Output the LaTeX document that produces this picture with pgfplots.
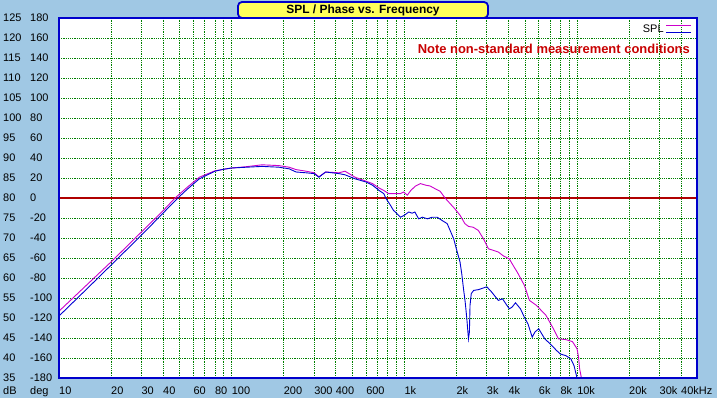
\documentclass[border=0pt]{standalone}
\usepackage{pgfplots}
\pgfplotsset{compat=1.18}
\usepackage{fontspec}
\setmainfont{Liberation Sans}
\definecolor{bgblue}{RGB}{160,200,228}
\definecolor{gridgreen}{RGB}{0,128,0}
\definecolor{framblue}{RGB}{0,0,204}
\definecolor{curveblue}{RGB}{0,0,210}
\definecolor{curvemag}{RGB}{204,0,204}
\definecolor{zerored}{RGB}{176,0,0}
\definecolor{noteRed}{RGB}{200,0,0}
\definecolor{titleyellow}{RGB}{255,255,90}
\begin{document}
\begin{tikzpicture}
\fill[bgblue] (-59bp,-20bp) rectangle (658bp,378bp);
\begin{axis}[
  at={(0,0)}, anchor=south west,
  scale only axis, width=638bp, height=360bp,
  xmode=log, xmin=10, xmax=49500, ymin=35, ymax=125,
  axis background/.style={fill=white},
  axis line style={draw=none},
  major tick length=0pt,
  grid=major,
  major grid style={gridgreen, line width=0.9bp, dash pattern=on 1.2bp off 1bp},
  xtick={10,20,30,40,50,60,70,80,90,100,200,300,400,500,600,700,800,900,1000,2000,3000,4000,5000,6000,7000,8000,9000,10000,20000,30000,40000},
  xticklabels={10,20,30,40,,60,,80,,100,200,300,400,,600,,,,1k,2k,3k,4k,,6k,,8k,,10k,20k,30k,40kHz},
  xticklabel style={anchor=base west, inner sep=0pt, yshift=-16bp, font=\fontsize{11}{13}\selectfont},
  ytick={35,40,...,125},
  yticklabels={
    \makebox[27bp][l]{35}-180, \makebox[27bp][l]{40}-160, \makebox[27bp][l]{45}-140,
    \makebox[27bp][l]{50}-120, \makebox[27bp][l]{55}-100, \makebox[27bp][l]{60}-80,
    \makebox[27bp][l]{65}-60, \makebox[27bp][l]{70}-40, \makebox[27bp][l]{75}-20,
    \makebox[27bp][l]{80}0, \makebox[27bp][l]{85}20, \makebox[27bp][l]{90}40,
    \makebox[27bp][l]{95}60, \makebox[27bp][l]{100}80, \makebox[27bp][l]{105}100,
    \makebox[27bp][l]{110}120, \makebox[27bp][l]{115}140, \makebox[27bp][l]{120}160,
    \makebox[27bp][l]{125}180},
  yticklabel style={anchor=base west, inner sep=0pt, xshift=-56bp, yshift=-3.5bp, font=\fontsize{11}{13}\selectfont},
  legend plot pos=right,
  legend style={draw=none, fill=none, at={(axis description cs:0.992,0.988)}, anchor=north east,
    inner sep=0pt, font=\fontsize{11}{13}\selectfont},
]
\addlegendimage{legend image code/.code={
  \draw[curvemag, line width=1.1bp] (0bp,3.4bp) -- (25bp,3.4bp);
  \draw[curveblue, line width=1.1bp] (0bp,-3.2bp) -- (25bp,-3.2bp);}}
\addlegendentry{SPL}
\addplot[zerored, line width=1.1bp, forget plot] coordinates {(10,80) (49500,80)};
% magenta SPL
\addplot[curvemag, line width=0.9bp, forget plot] coordinates {
(10,51.7) (15,58.9) (20,64.0) (30,71.5) (40,76.8) (47,80) (55,82.6) (65,85.2) (80,86.8)
(100,87.5) (120,87.8) (150,88.3) (188,88.1) (215,87.7) (236,87.1) (270,86.7) (300,86.3)
(320,85.3) (350,86.5) (418,86.3) (453,86.7) (518,85.2) (600,84.2) (654,83.6) (713,82.5)
(760,81.9) (810,81.1) (950,81.1) (990,81.5) (1040,80.7) (1090,81.9) (1160,83) (1240,83.6)
(1330,83.2) (1410,83) (1510,82.3) (1610,81.7) (1720,80) (1840,78.6) (1960,77.3) (2100,75.7)
(2240,73.6) (2350,72.9) (2500,72.7) (2680,71.9) (2870,69.8) (3070,67.3) (3280,66.9)
(3500,66.5) (3750,65.5) (4050,64.8) (4270,63.1) (4500,61.5) (4950,58.2) (5300,54.4)
(5800,53.2) (6600,50.7) (7300,47.3) (7800,44.8) (8600,44.6) (9400,44.1) (10000,42.3)
(10200,40.2) (10350,37.3) (10600,35)};
% blue SPL
\addplot[curveblue, line width=0.9bp, forget plot] coordinates {
(10,50.5) (15,57.9) (20,63.2) (30,70.7) (40,76.2) (48.8,80) (55,82.1) (65,84.8) (80,86.7)
(90,87.2) (100,87.5) (122,87.7) (150,87.9) (188,87.7) (215,87.3) (236,86.5) (270,86.3)
(300,86.1) (320,85.2) (350,86.5) (418,86.1) (453,85.8) (518,84.8) (600,84) (654,83.2)
(713,81.9) (760,81.1) (780,80) (830,78.2) (865,76.9) (905,76.1) (950,75.2) (1000,75.7)
(1060,76.5) (1110,76.2) (1150,76.5) (1210,74.8) (1270,75.2) (1360,74.8) (1450,75.2)
(1550,75.2) (1650,74.4) (1770,73.6) (1840,71.9) (1930,69.8) (2000,67.3) (2100,64)
(2150,61) (2200,57.3) (2250,54) (2300,49.8) (2350,44.8) (2380,46.5) (2400,53.2)
(2440,56.1) (2520,56.9) (2690,57.1) (3000,57.8) (3200,56.5) (3500,54.4) (3700,54.8)
(4050,52.3) (4200,52.7) (4400,53.8) (4700,52.3) (4950,50.2) (5200,48.5) (5500,45.2)
(5700,46.5) (6000,47.3) (6500,44.8) (7000,43.5) (7600,41.9) (8000,41) (8600,40.6)
(9200,39.8) (9600,38.1) (10000,35)};
\end{axis}
\draw[framblue, line width=2.5bp] (0,0) rectangle (638bp,360bp);
\node[anchor=base west, inner sep=0pt, font=\fontsize{11}{13}\selectfont] at (-56bp,-16bp) {dB};
\node[anchor=base west, inner sep=0pt, font=\fontsize{11}{13}\selectfont] at (-29bp,-16bp) {deg};
\node[anchor=base east, inner sep=0pt, text=noteRed, font=\fontsize{13}{15}\bfseries\selectfont] at (631bp,324.7bp) {Note non-standard measurement conditions};
\node[fill=titleyellow, draw=framblue, line width=1.8bp, rounded corners=4bp,
  minimum width=250bp, minimum height=16bp, inner sep=0pt,
  font=\fontsize{12}{14}\bfseries\selectfont] at (304bp,368bp) {SPL / Phase vs. Frequency};
\end{tikzpicture}
\end{document}
